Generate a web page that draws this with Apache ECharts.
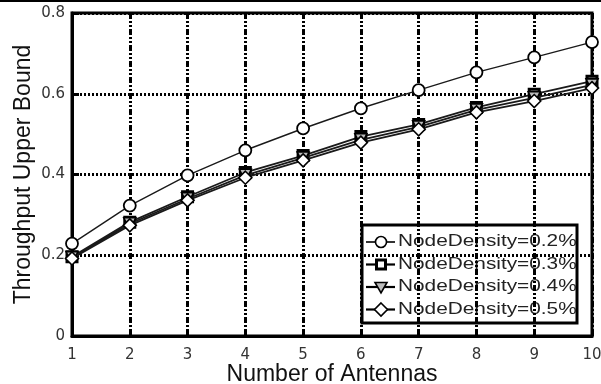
<!DOCTYPE html>
<html>
<head>
<meta charset="utf-8">
<title>Throughput Upper Bound vs Number of Antennas</title>
<script src="https://cdn.jsdelivr.net/npm/echarts@6/dist/echarts.min.js"></script>
<style>
  html, body { margin: 0; padding: 0; background: #fff; }
  #chart { width: 601px; height: 384px; }
</style>
</head>
<body>
<div id="chart"></div>
<script>
// Number of antennas on the x axis
const antennas = [1, 2, 3, 4, 5, 6, 7, 8, 9, 10];

// Throughput upper bound for each node density
const density02 = [0.229, 0.323, 0.398, 0.460, 0.514, 0.564, 0.609, 0.653, 0.690, 0.728];
const density03 = [0.196, 0.282, 0.345, 0.405, 0.447, 0.494, 0.524, 0.566, 0.599, 0.631];
const density04 = [0.194, 0.278, 0.340, 0.398, 0.441, 0.486, 0.518, 0.560, 0.590, 0.622];
const density05 = [0.192, 0.274, 0.336, 0.392, 0.435, 0.479, 0.512, 0.554, 0.582, 0.614];

const seriesNames = [
  'NodeDensity=0.2%',
  'NodeDensity=0.3%',
  'NodeDensity=0.4%',
  'NodeDensity=0.5%'
];

// Axis ranges and tick spacing
const xRange = [1, 10, 1];
const yRange = [0, 0.8, 0.2];

const pairs = vals => antennas.map((a, i) => [a, vals[i]]);

const chart = echarts.init(document.getElementById('chart'), null, { renderer: 'canvas' });

const lineColor = '#1a1a1a';
const tickFont = 'DejaVu Sans';
const titleFont = 'Liberation Sans';

// Shared look of each series (marker shape, size, fill)
const styles = [
  { symbol: 'circle', size: 12, fill: '#fff', border: 1.8, width: 1.4 },
  { symbol: 'rect', size: 10, fill: '#fff', border: 3, width: 1.8 },
  { symbol: 'triangle', size: 12, fill: '#bbb', border: 1.6, width: 1.8, rotate: 180 },
  { symbol: 'diamond', size: 13, fill: '#fff', border: 1.6, width: 1.8 }
];
const seriesData = [density02, density03, density04, density05];

const series = seriesData.map((vals, i) => ({
  name: seriesNames[i],
  type: 'line',
  data: pairs(vals),
  symbol: styles[i].symbol,
  symbolSize: styles[i].size,
  symbolRotate: styles[i].rotate || 0,
  showAllSymbol: true,
  z: 3 + i,
  lineStyle: { color: lineColor, width: styles[i].width },
  itemStyle: { color: styles[i].fill, borderColor: '#000', borderWidth: styles[i].border },
  emphasis: { disabled: true },
  animation: false
}));

// Legend box drawn as a group of shapes and texts
const legendX = 362, legendY = 225, legendW = 215, legendH = 98;
const rowY = [242, 264.5, 287, 309.5];
const legendChildren = [{
  type: 'rect',
  shape: { x: legendX, y: legendY, width: legendW, height: legendH },
  style: { fill: '#fff', stroke: '#000', lineWidth: 3 }
}];
rowY.forEach((y, i) => {
  legendChildren.push({
    type: 'line',
    shape: { x1: 366, y1: y, x2: 395, y2: y },
    style: { stroke: '#000', lineWidth: i === 0 ? 1.6 : 2.2 }
  });
  const cx = 381;
  let marker;
  if (i === 0) {
    marker = { type: 'circle', shape: { cx: cx, cy: y, r: 5.5 } };
  } else if (i === 1) {
    marker = { type: 'rect', shape: { x: cx - 4.5, y: y - 4.5, width: 9, height: 9 } };
  } else if (i === 2) {
    marker = { type: 'polygon', shape: { points: [[cx - 6, y - 4.5], [cx + 6, y - 4.5], [cx, y + 6]] } };
  } else {
    marker = { type: 'polygon', shape: { points: [[cx, y - 6.5], [cx + 6.5, y], [cx, y + 6.5], [cx - 6.5, y]] } };
  }
  marker.style = { fill: styles[i].fill, stroke: '#000', lineWidth: i === 1 ? 3 : 1.6 };
  legendChildren.push(marker);
  legendChildren.push({
    type: 'text',
    x: 398,
    y: y,
    scaleX: 1.3,
    style: {
      text: seriesNames[i],
      font: '16px "Liberation Sans"',
      fill: '#222',
      verticalAlign: 'middle',
      align: 'left'
    }
  });
});

const option = {
  backgroundColor: '#fff',
  animation: false,
  grid: {
    left: 72, right: 9, top: 13, bottom: 48,
    outerBoundsMode: 'none',
    containLabel: false,
    show: true, borderColor: '#000', borderWidth: 3, backgroundColor: 'transparent'
  },
  xAxis: {
    type: 'value',
    min: xRange[0], max: xRange[1], interval: xRange[2],
    name: 'Number of Antennas',
    nameLocation: 'middle',
    nameGap: 27,
    nameMoveOverlap: false,
    nameTextStyle: { fontFamily: titleFont, fontSize: 23, color: '#111' },
    axisLine: { show: true, lineStyle: { color: '#000', width: 3 } },
    axisTick: { show: true, inside: true, length: 7, lineStyle: { color: '#000', width: 3 } },
    axisLabel: { fontFamily: tickFont, fontSize: 15, color: '#333', margin: 12 },
    splitLine: {
      show: true,
      lineStyle: { color: '#000', width: 3, type: [6, 2, 2, 2, 2, 2] }
    }
  },
  yAxis: {
    type: 'value',
    min: yRange[0], max: yRange[1], interval: yRange[2],
    name: 'Throughput Upper Bound',
    nameLocation: 'middle',
    nameGap: 37,
    nameRotate: 90,
    nameMoveOverlap: false,
    nameTextStyle: { fontFamily: titleFont, fontSize: 23, color: '#111' },
    axisLine: { show: true, lineStyle: { color: '#000', width: 3 } },
    axisTick: { show: true, inside: true, length: 7, lineStyle: { color: '#000', width: 3 } },
    axisLabel: { fontFamily: tickFont, fontSize: 15, color: '#333', margin: 7 },
    splitLine: {
      show: true,
      lineStyle: { color: '#000', width: 3, type: [2, 2] }
    }
  },
  series: series,
  graphic: [
    {
      type: 'line',
      shape: { x1: 0, y1: 1, x2: 601, y2: 1 },
      style: { stroke: '#000', lineWidth: 2 },
      z: 10
    },
    { type: 'group', children: legendChildren, z: 20 }
  ]
};

chart.setOption(option);
</script>
</body>
</html>
